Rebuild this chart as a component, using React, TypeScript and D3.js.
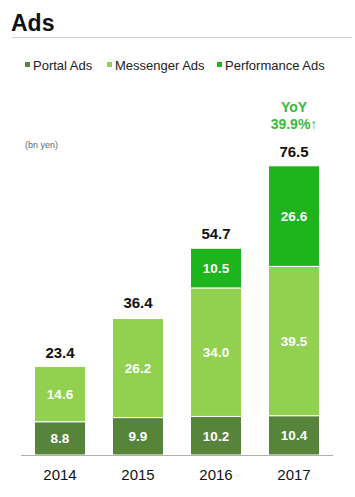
import React from "react";
import * as d3 from "d3";

const years = ["2014", "2015", "2016", "2017"];
const portalAds = [8.8, 9.9, 10.2, 10.4];
const messengerAds = [14.6, 26.2, 34.0, 39.5];
const performanceAds = [0, 0, 10.5, 26.6];
const totals = [23.4, 36.4, 54.7, 76.5];
const seriesNames = ["Portal Ads", "Messenger Ads", "Performance Ads"];
const seriesColors = ["#56843a", "#92d050", "#1db41d"];

export default function App() {
  const W = 355, H = 497;
  const x = d3.scaleBand<string>().domain(years).range([21, 333]).paddingInner(0.346).paddingOuter(0.173);
  const y = d3.scaleLinear().domain([0, 80]).range([455, 455 - 80 * 3.78]);
  const series = [portalAds, messengerAds, performanceAds];
  const font = "'Liberation Sans', Arial, sans-serif";

  const legendX = [25, 107, 217];

  return (
    <svg width={W} height={H} style={{ position: "absolute", left: 0, top: 0, background: "#fff" }} fontFamily={font}>
      <text x={11} y={31} fontSize={23} fontWeight="bold" fill="#111">Ads</text>
      <line x1={12} x2={352} y1={37.5} y2={37.5} stroke="#d0d0d0" strokeWidth={1} />
      {seriesNames.map((n, i) => (
        <g key={n}>
          <rect x={legendX[i]} y={62} width={5} height={5} fill={seriesColors[i]} />
          <text x={legendX[i] + 8} y={69.5} fontSize={13} fill="#222">{n}</text>
        </g>
      ))}
      <text x={25} y={148} fontSize={9} fill="#666">(bn yen)</text>
      {years.map((yr, i) => {
        let base = 0;
        const bx = x(yr)!;
        const bw = x.bandwidth();
        return (
          <g key={yr}>
            {series.map((s, k) => {
              const v = s[i];
              if (!v) return null;
              const y0 = y(base);
              const y1 = y(base + v);
              base += v;
              return (
                <g key={k}>
                  <rect x={bx} y={y1} width={bw} height={y0 - y1} fill={seriesColors[k]} stroke="#fff" strokeWidth={1} />
                  <text x={bx + bw / 2} y={(y0 + y1) / 2 + 5} textAnchor="middle" fontSize={13.5} fontWeight="bold" fill="#fff">
                    {v.toFixed(1)}
                  </text>
                </g>
              );
            })}
            <text x={bx + bw / 2} y={y(totals[i]) - 9} textAnchor="middle" fontSize={15} fontWeight="bold" fill="#111">
              {totals[i].toFixed(1)}
            </text>
            <text x={bx + bw / 2} y={480} textAnchor="middle" fontSize={15} fill="#111">{yr}</text>
          </g>
        );
      })}
      <line x1={21} x2={333} y1={455.5} y2={455.5} stroke="#b0b0b0" strokeWidth={1.2} />
      <text x={x("2017")! + x.bandwidth() / 2} y={112} textAnchor="middle" fontSize={14} fontWeight="bold" fill="#3cb83c">YoY</text>
      <text x={x("2017")! + x.bandwidth() / 2} y={129} textAnchor="middle" fontSize={14} fontWeight="bold" fill="#3cb83c">39.9%↑</text>
    </svg>
  );
}
